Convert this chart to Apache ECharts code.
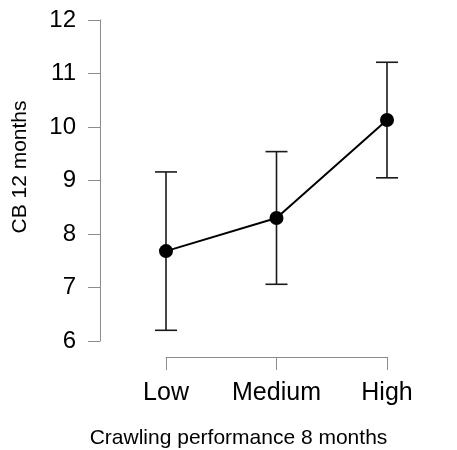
<!DOCTYPE html>
<html>
<head>
<meta charset="utf-8">
<script src="https://cdn.jsdelivr.net/npm/echarts@6/dist/echarts.min.js"></script>
<style>html,body{margin:0;padding:0;background:#fff;}#c{width:457px;height:450px;}</style>
</head>
<body>
<div id="c"></div>
<script>
const categories = ['Low', 'Medium', 'High'];
const means = [7.68, 8.30, 10.13];
const lower = [6.20, 7.06, 9.05];
const upper = [9.16, 9.54, 11.21];
const yTicks = [6, 7, 8, 9, 10, 11, 12];
const xTitle = 'Crawling performance 8 months';
const yTitle = 'CB 12 months';

const FONT = 'Liberation Sans';
const chart = echarts.init(document.getElementById('c'), null, {renderer: 'canvas'});
const errData = categories.map((c, i) => [i, lower[i], upper[i]]);
chart.setOption({
  animation: false,
  backgroundColor: '#fff',
  grid: {left: 166, right: 70, top: 20, bottom: 109, containLabel: false, outerBoundsMode: 'none'},
  xAxis: {
    type: 'category',
    data: categories,
    boundaryGap: false,
    offset: 16,
    axisLine: {show: true, lineStyle: {color: '#8c8c8c', width: 1}},
    axisTick: {show: true, interval: 0, length: 13, inside: false, lineStyle: {color: '#8c8c8c', width: 1}},
    axisLabel: {interval: 0, hideOverlap: false, margin: 24, color: '#000', fontFamily: FONT, fontSize: 25},
    splitLine: {show: false},
    name: xTitle,
    nameLocation: 'middle',
    nameGap: 71,
    nameTextStyle: {color: '#000', fontFamily: FONT, fontSize: 21, padding: [0, 76, 0, 0]}
  },
  yAxis: {
    type: 'value',
    min: yTicks[0],
    max: yTicks[yTicks.length - 1],
    interval: 1,
    offset: 66,
    axisLine: {show: true, lineStyle: {color: '#8c8c8c', width: 1}},
    axisTick: {show: true, length: 12, lineStyle: {color: '#8c8c8c', width: 1}},
    axisLabel: {margin: 24, color: '#000', fontFamily: FONT, fontSize: 24},
    splitLine: {show: false},
    name: yTitle,
    nameLocation: 'middle',
    nameRotate: 90,
    nameGap: 69,
    nameTextStyle: {color: '#000', fontFamily: FONT, fontSize: 21, padding: [0, 0, 0, 27]}
  },
  series: [
    {
      type: 'custom',
      data: errData,
      z: 2,
      renderItem: function (params, api) {
        const x = api.value(0);
        const lo = api.coord([x, api.value(1)]);
        const hi = api.coord([x, api.value(2)]);
        const w = 11;
        const style = {stroke: '#1a1a1a', lineWidth: 1.6};
        return {
          type: 'group',
          children: [
            {type: 'line', shape: {x1: lo[0], y1: lo[1], x2: hi[0], y2: hi[1]}, style: style},
            {type: 'line', shape: {x1: lo[0] - w, y1: lo[1], x2: lo[0] + w, y2: lo[1]}, style: style},
            {type: 'line', shape: {x1: hi[0] - w, y1: hi[1], x2: hi[0] + w, y2: hi[1]}, style: style}
          ]
        };
      }
    },
    {
      type: 'line',
      data: means,
      z: 3,
      symbol: 'circle',
      symbolSize: 14,
      lineStyle: {color: '#000', width: 2},
      itemStyle: {color: '#000'}
    }
  ]
});
</script>
</body>
</html>
